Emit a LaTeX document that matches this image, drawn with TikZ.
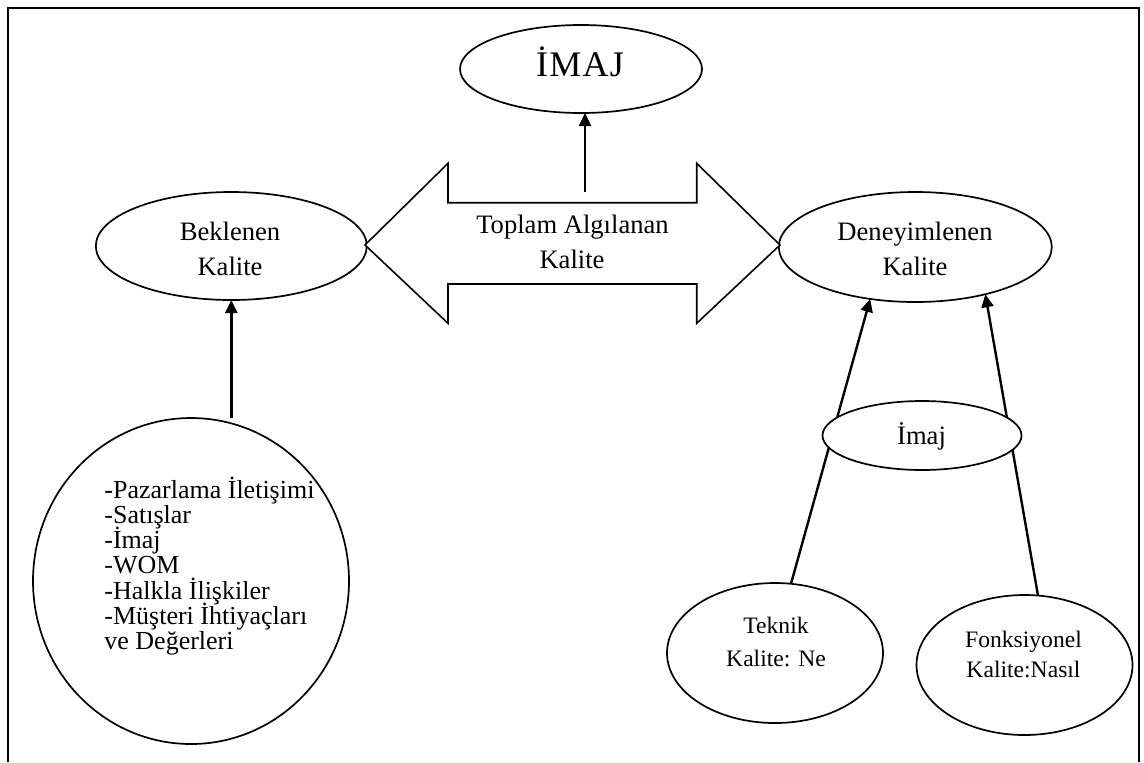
\documentclass[tikz,border=0pt]{standalone}
\usepackage{fontspec}
\setmainfont{Liberation Serif}
\usetikzlibrary{shapes.geometric,arrows.meta}
\begin{document}
\begin{tikzpicture}[x=0.5pt,y=-0.5pt,
  oval/.style={draw,ellipse,inner sep=0pt,outer sep=0pt,line width=0.85pt,fill=white},
  lbl/.style={inner sep=0pt,anchor=base,font=\fontsize{13.3}{15}\selectfont},
  smalllbl/.style={inner sep=0pt,anchor=base,font=\fontsize{11.8}{14}\selectfont},
  listlbl/.style={inner sep=0pt,anchor=base west,font=\fontsize{13}{15}\selectfont},
  conn/.style={line width=1.2pt,-{Triangle[length=6.5pt,width=6pt]}},
  frame/.style={line width=1pt},
  bigarrow/.style={draw,line width=0.8pt,fill=white,line join=miter}
  ]
\useasboundingbox (0,0) rectangle (1144,762);
% frame (open at the bottom)
\draw[frame] (7.5,762) -- (7.5,8) -- (1139,8) -- (1139,762);

% ellipses
\node[oval,minimum width=121pt,minimum height=44pt] (imaj) at (581,69) {};
\node[oval,minimum width=135.5pt,minimum height=54pt] (bek) at (231.3,246) {};
\node[oval,minimum width=136.5pt,minimum height=55pt] (den) at (915.3,247) {};
\node[oval,minimum width=108pt,minimum height=70pt] (teknik) at (775,653) {};
\node[oval,minimum width=108pt,minimum height=70pt] (fonk) at (1024.5,665) {};
\node[oval,minimum width=158pt,minimum height=163pt] (big) at (191,581) {};

% double arrow
\draw[bigarrow] (365,245) -- (448,163.3) -- (448,202.7) -- (696.7,202.7) -- (696.7,163.3)
  -- (780,245) -- (696.7,323.3) -- (696.7,284) -- (448,284) -- (448,323.3) -- cycle;
\coordinate (dtop) at (585,192);

% connectors
\draw[conn] (dtop) -- (dtop |- imaj.south);
\draw[conn] (big.north -| bek.south) -- (bek.south);
\draw[conn] (teknik.77) -- (den.229.5);
\draw[conn] (fonk.79) -- (den.326);

% small ellipse on top of the two lines
\node[oval,minimum width=99.5pt,minimum height=34.5pt] (imajs) at (922,435.5) {};

% texts
\node[lbl,font=\fontsize{18}{20}\selectfont] (t-imaj) at (580,76) {İ\kern0.6ptM\kern0.6ptA\kern0.6ptJ};
\node[lbl] (t-bek1) at (230,240) {Beklenen};
\node[lbl] (t-bek2) at (230,275) {Kalite};
\node[lbl] (t-den1) at (915,240) {Deneyimlenen};
\node[lbl] (t-den2) at (915,275) {Kalite};
\node[lbl] (t-top1) at (572.5,233) {Toplam Algılanan};
\node[lbl] (t-top2) at (572,268) {Kalite};
\node[lbl] (t-ims) at (921.5,444) {İmaj};
\node[smalllbl] (t-tek1) at (776,633) {Teknik};
\node[smalllbl] (t-tek2) at (776,666) {Kalite: Ne};
\node[smalllbl] (t-fon1) at (1023.5,647) {Fonksiyonel};
\node[smalllbl] (t-fon2) at (1023.5,677) {Kalite:Nasıl};
\node[listlbl] (l1) at (104,498) {-Pazarlama İletişimi};
\node[listlbl] (l2) at (104,523.3) {-Satışlar};
\node[listlbl] (l3) at (104,548.6) {-İmaj};
\node[listlbl] (l4) at (104,573.9) {-WOM};
\node[listlbl] (l5) at (104,599.2) {-Halkla İlişkiler};
\node[listlbl] (l6) at (104,624.5) {-Müşteri İhtiyaçları};
\node[listlbl] (l7) at (104,649.8) {ve Değerleri};
\end{tikzpicture}
\end{document}
